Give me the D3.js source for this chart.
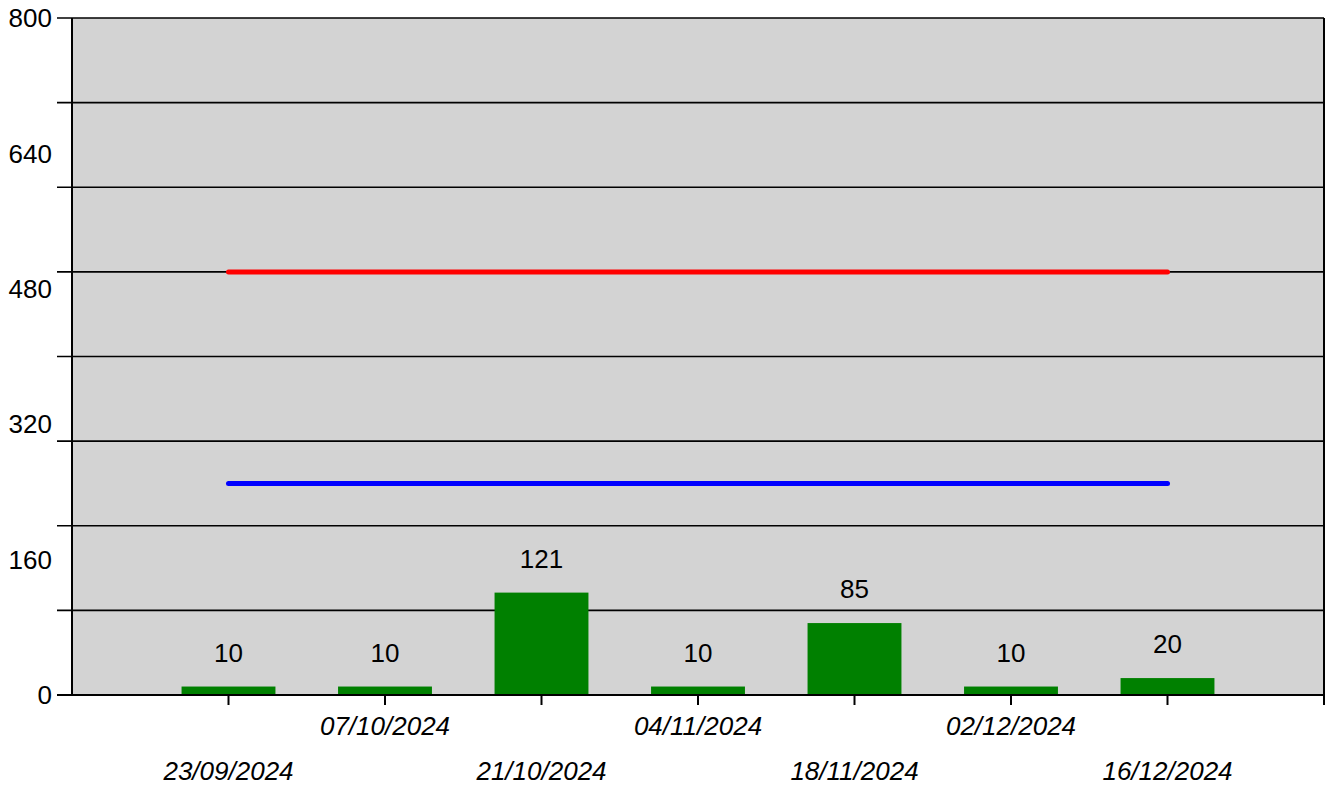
<!DOCTYPE html>
<html>
<head>
<meta charset="utf-8">
<script src="https://cdn.jsdelivr.net/npm/d3@7"></script>
<style>
  body { margin: 0; background: #fff; }
  text { font-family: "Liberation Sans", Arial, sans-serif; }
</style>
</head>
<body>
<div id="chart"></div>
<script>
// chart data
const dates = ["23/09/2024", "07/10/2024", "21/10/2024", "04/11/2024", "18/11/2024", "02/12/2024", "16/12/2024"];
const counts = [10, 10, 121, 10, 85, 10, 20];
const upperLimit = 500;
const lowerLimit = 250;
const yLabels = [0, 160, 320, 480, 640, 800];
const yGrid = [0, 100, 200, 300, 400, 500, 600, 700, 800];

const width = 1329, height = 787;
const margin = { top: 18, right: 5, bottom: 92, left: 72 };

const svg = d3.select("#chart")
  .append("svg")
  .attr("width", width)
  .attr("height", height);

// x positions: one slot per date, with an empty slot at each end
const x = d3.scaleLinear()
  .domain([0, dates.length + 1])
  .range([margin.left, width - margin.right]);

const y = d3.scaleLinear()
  .domain([0, 800])
  .range([height - margin.bottom, margin.top]);

const step = x(1) - x(0);
const barW = step * 0.6;

// plot background
svg.append("rect")
  .attr("x", x(0))
  .attr("y", y(800))
  .attr("width", x(dates.length + 1) - x(0))
  .attr("height", y(0) - y(800))
  .attr("fill", "#d3d3d3");

// horizontal grid lines (with small tick stubs on the left)
svg.append("g")
  .selectAll("line")
  .data(yGrid)
  .enter()
  .append("line")
  .attr("x1", x(0) - 15)
  .attr("x2", x(dates.length + 1))
  .attr("y1", d => y(d))
  .attr("y2", d => y(d))
  .attr("stroke", "#000")
  .attr("stroke-width", 1.7);

// y labels
svg.append("g")
  .selectAll("text")
  .data(yLabels)
  .enter()
  .append("text")
  .attr("x", x(0) - 20)
  .attr("y", d => y(d))
  .attr("dy", "0.35em")
  .attr("text-anchor", "end")
  .attr("font-size", 26)
  .text(d => d);

// bars
svg.append("g")
  .selectAll("rect")
  .data(counts)
  .enter()
  .append("rect")
  .attr("x", (d, i) => x(i + 1) - barW / 2)
  .attr("y", d => y(d))
  .attr("width", barW)
  .attr("height", d => y(0) - y(d))
  .attr("fill", "#008000");

// bar value labels
svg.append("g")
  .selectAll("text")
  .data(counts)
  .enter()
  .append("text")
  .attr("x", (d, i) => x(i + 1))
  .attr("y", d => y(d) - 25)
  .attr("text-anchor", "middle")
  .attr("font-size", 26)
  .text(d => d);

// limit lines
[[upperLimit, "#ff0000"], [lowerLimit, "#0000ff"]].forEach(([v, c]) => {
  svg.append("line")
    .attr("x1", x(1))
    .attr("x2", x(dates.length))
    .attr("y1", y(v))
    .attr("y2", y(v))
    .attr("stroke", c)
    .attr("stroke-width", 5)
    .attr("stroke-linecap", "round");
});

// axes frame
svg.append("line")
  .attr("x1", x(0)).attr("x2", x(0))
  .attr("y1", y(800)).attr("y2", y(0))
  .attr("stroke", "#000").attr("stroke-width", 2);
svg.append("line")
  .attr("x1", x(dates.length + 1)).attr("x2", x(dates.length + 1))
  .attr("y1", y(800)).attr("y2", y(0) + 10)
  .attr("stroke", "#000").attr("stroke-width", 2);
svg.append("line")
  .attr("x1", x(0) - 15).attr("x2", x(dates.length + 1))
  .attr("y1", y(0)).attr("y2", y(0))
  .attr("stroke", "#000").attr("stroke-width", 2);

// x ticks
svg.append("g")
  .selectAll("line")
  .data(dates)
  .enter()
  .append("line")
  .attr("x1", (d, i) => x(i + 1))
  .attr("x2", (d, i) => x(i + 1))
  .attr("y1", y(0))
  .attr("y2", y(0) + 10)
  .attr("stroke", "#000")
  .attr("stroke-width", 2);

// x labels, staggered on two rows
svg.append("g")
  .selectAll("text")
  .data(dates)
  .enter()
  .append("text")
  .attr("x", (d, i) => x(i + 1))
  .attr("y", (d, i) => i % 2 === 0 ? y(0) + 85 : y(0) + 40)
  .attr("text-anchor", "middle")
  .attr("font-size", 26)
  .attr("font-style", "italic")
  .text(d => d);
</script>
</body>
</html>
